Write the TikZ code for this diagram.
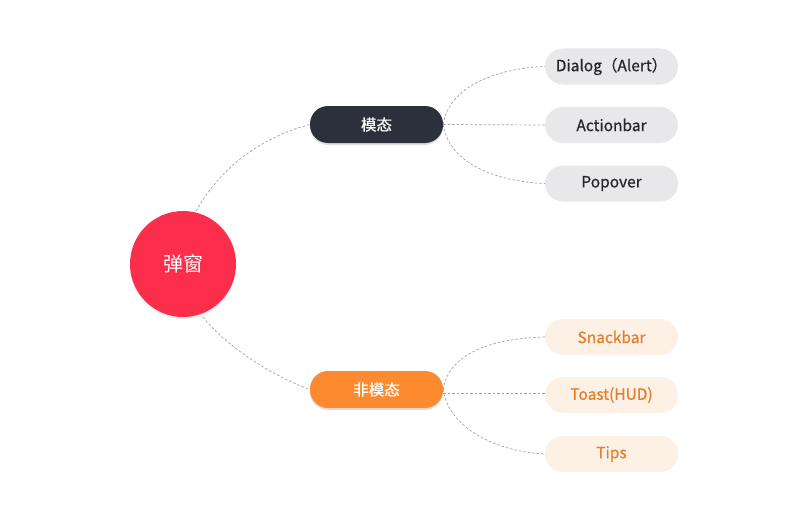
\documentclass[tikz,border=0pt]{standalone}
\usepackage{fontspec}
\setmainfont{Noto Sans CJK SC}[AutoFakeBold=0.7]
\usetikzlibrary{shadows}
\definecolor{redc}{HTML}{FD2E4B}
\definecolor{darkc}{HTML}{2C2F3C}
\definecolor{orangec}{HTML}{FD8A2E}
\definecolor{grayfill}{HTML}{E8E8EA}
\definecolor{peachfill}{HTML}{FDF0E4}
\definecolor{peachtext}{HTML}{E47F2E}
\definecolor{linec}{HTML}{A0A0A6}
\begin{document}
\begin{tikzpicture}[x=1pt,y=-1pt,
  pill/.style={rounded corners=18pt, minimum width=133pt, minimum height=37pt, inner sep=0pt, font=\fontsize{15.5}{17}\selectfont\bfseries},
  mainpill/.style={pill, drop shadow={shadow xshift=0pt, shadow yshift=-2pt, opacity=0.25}},
  leafgray/.style={pill, fill=grayfill, text=black!85, minimum height=36pt},
  leaforange/.style={pill, fill=peachfill, text=peachtext, minimum height=36pt},
  conn/.style={draw=linec, line width=0.7pt, dash pattern=on 2.5pt off 2pt}
]
\useasboundingbox (0,0) rectangle (800,527);
\node[circle, fill=redc, minimum size=106pt, text=white, font=\fontsize{20}{22}\selectfont, drop shadow={shadow xshift=0pt, shadow yshift=-2pt, opacity=0.15}] (root) at (183,264) {弹窗};
\node[mainpill, fill=darkc, text=white] (modal) at (376.5,124.5) {模态};
\node[mainpill, fill=orangec, text=white] (nonmodal) at (376.5,389.5) {非模态};
\node[leafgray] (dialog) at (611.5,66.5) {Dialog（Alert）};
\node[leafgray] (actionbar) at (611.5,125) {Actionbar};
\node[leafgray] (popover) at (611.5,183.5) {Popover};
\node[leaforange] (snackbar) at (611.5,337) {Snackbar};
\node[leaforange] (toast) at (611.5,395) {Toast(HUD)};
\node[leaforange] (tips) at (611.5,454) {Tips};
\coordinate (rt) at (196,211);
\coordinate (rb) at (203,317);
\coordinate (te) at (443,393);
\coordinate (tw) at (545,393);
\draw[conn] (rt) .. controls (225,160) and (270,135) .. (modal.west);
\draw[conn] (rb) .. controls (225,345) and (270,375) .. (nonmodal.west);
\draw[conn] (modal.east) .. controls (449,85) and (500,68) .. (dialog.west);
\draw[conn] (modal.east) -- (actionbar.west);
\draw[conn] (modal.east) .. controls (449,165) and (500,182) .. (popover.west);
\draw[conn] (nonmodal.east) .. controls (449,350) and (500,338) .. (snackbar.west);
\draw[conn] (te) -- (tw);
\draw[conn] (nonmodal.east) .. controls (449,430) and (500,452) .. (tips.west);
\end{tikzpicture}
\end{document}
